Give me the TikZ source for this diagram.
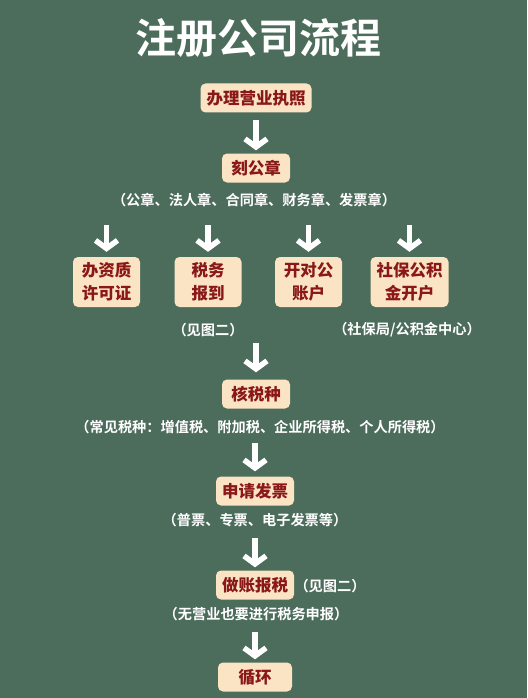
\documentclass[tikz,border=0pt]{standalone}
\usepackage{fontspec}
\setmainfont{Noto Sans CJK SC}[BoldFont={Noto Sans CJK SC Bold}]
\newfontfamily\epais{Noto Sans CJK SC Black}
\usetikzlibrary{arrows.meta}
\definecolor{fond}{HTML}{4C6C5C}
\definecolor{creme}{HTML}{FAE4C4}
\definecolor{rouge}{HTML}{8A1818}
\tikzset{
  etape/.style={fill=creme, rounded corners=5pt, text=rouge,
    font=\fontsize{16.5}{22}\selectfont\epais, inner xsep=6pt, inner ysep=0pt,
    minimum height=29pt, minimum width=68pt},
  etapedouble/.style={etape, minimum width=67pt, minimum height=50pt, align=center,
    font=\fontsize{16.5}{23}\selectfont\epais},
  remarque/.style={text=white, font=\fontsize{14.2}{16}\selectfont\bfseries, inner sep=0pt},
  fleche/.style={draw=white, line width=5.5pt,
    -{Straight Barb[length=8pt, width=22pt]}, shorten >=5pt}
}
\begin{document}
\begin{tikzpicture}[x=1pt, y=-1pt]
				\fill[fond] (0,0) rectangle (527,698);
				\useasboundingbox (0,0) rectangle (527,698);
				% titre
				\node[text=white, font=\fontsize{41}{46}\selectfont\bfseries] (titre) at (258,38) {注册公司流程};
				% les etapes
				\node[etape] (licence) at (256,98) {办理营业执照};
				\node[etape] (sceau) at (256,168) {刻公章};
				\node[remarque] (sceaux) at (254,200) {（公章、法人章、合同章、财务章、发票章）};
				\node[etapedouble] (qualif) at (106.5,282) {办资质\\许可证};
				\node[etapedouble] (fisc) at (208,282) {税务\\报到};
				\node[etapedouble] (compte) at (308.5,282) {开对公\\账户};
				\node[etapedouble] (social) at (409.5,282) {社保公积\\金开户};
				\node[remarque] (voir1) at (208,330) {（见图二）};
				\node[remarque] (caisse) at (407,330) {（社保局/公积金中心）};
				\node[etape] (impots) at (256,394) {核税种};
				\node[remarque] (types) at (260,427) {（常见税种：增值税、附加税、企业所得税、个人所得税）};
				\node[etape] (facture) at (255,491) {申请发票};
				\node[remarque] (sortes) at (255,520) {（普票、专票、电子发票等）};
				\node[etape] (compta) at (255,585) {做账报税};
				\node[remarque] (voir2) at (330,586) {（见图二）};
				\node[remarque] (decl) at (256,614) {（无营业也要进行税务申报）};
				\node[etape, minimum width=74pt] (boucle) at (255,677) {循环};
				% departs des fleches
				\coordinate (d1) at (106.5,225);
				\coordinate (d2) at (208,225);
				\coordinate (d3) at (308.5,225);
				\coordinate (d4) at (409.5,225);
				\coordinate (d5) at (256,343);
				\coordinate (d6) at (255,443);
				\coordinate (d7) at (255,538);
				\coordinate (d8) at (255,632);
				% fleches
				\draw[fleche, shorten <=7pt, shorten >=3pt] (licence) -- (sceau);
				\draw[fleche] (d1) -- (qualif);
				\draw[fleche] (d2) -- (fisc);
				\draw[fleche] (d3) -- (compte);
				\draw[fleche] (d4) -- (social);
				\draw[fleche, shorten >=7pt] (d5) -- (impots);
				\draw[fleche] (d6) -- (facture);
				\draw[fleche, shorten >=3pt] (d7) -- (compta);
				\draw[fleche, shorten >=3pt] (d8) -- (boucle);
\end{tikzpicture}
\end{document}
